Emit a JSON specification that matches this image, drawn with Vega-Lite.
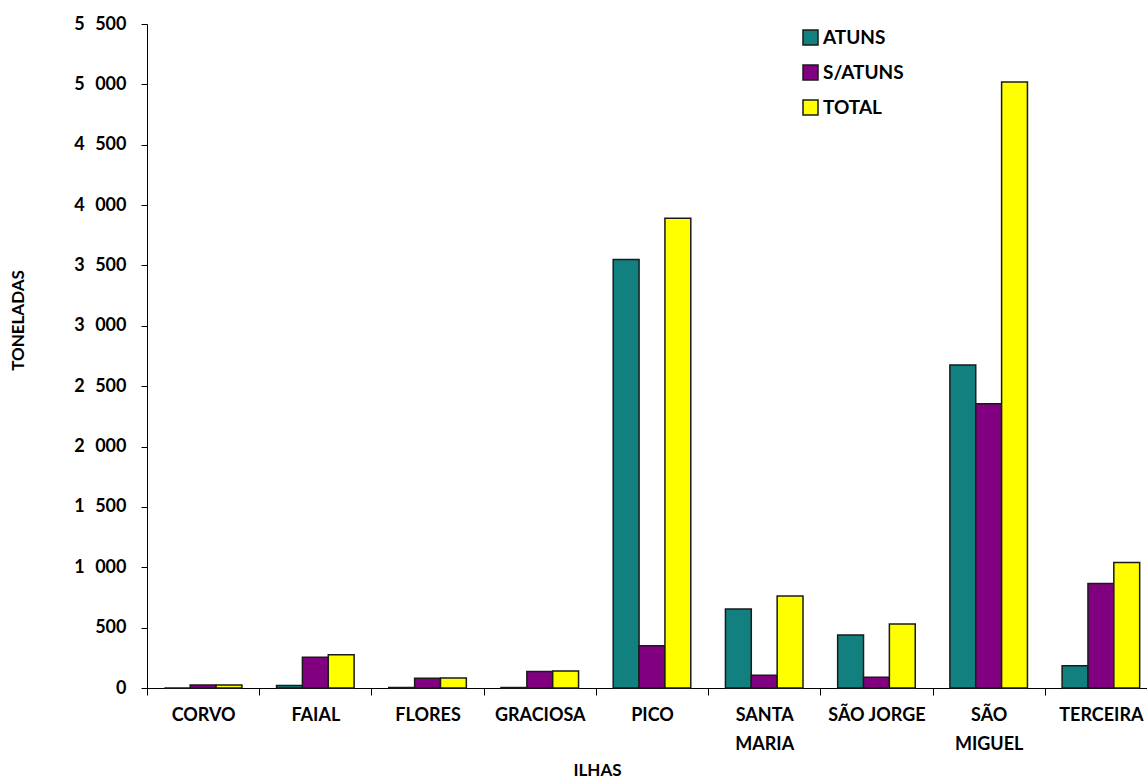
{
  "$schema": "https://vega.github.io/schema/vega-lite/v6.json",
  "autosize": {"type": "none"},
  "width": 1000,
  "height": 664,
  "padding": {"left": 147, "top": 24, "right": 0, "bottom": 90},
  "background": "white",
  "config": {
    "view": {"stroke": null},
    "font": "Lato",
    "axis": {"grid": false, "domainColor": "#000000", "tickColor": "#000000", "labelColor": "#000000", "titleColor": "#000000", "labelFont": "Lato", "titleFont": "Lato", "labelFontWeight": "bold", "titleFontWeight": "bold", "labelFontSize": 18, "titleFontSize": 17, "domainWidth": 1, "tickWidth": 1}
  },
  "data": {
    "values": [
      {"ilha": "CORVO", "tipo": "ATUNS", "valor": 0},
      {"ilha": "CORVO", "tipo": "S/ATUNS", "valor": 25},
      {"ilha": "CORVO", "tipo": "TOTAL", "valor": 25},
      {"ilha": "FAIAL", "tipo": "ATUNS", "valor": 20},
      {"ilha": "FAIAL", "tipo": "S/ATUNS", "valor": 255},
      {"ilha": "FAIAL", "tipo": "TOTAL", "valor": 275},
      {"ilha": "FLORES", "tipo": "ATUNS", "valor": 4},
      {"ilha": "FLORES", "tipo": "S/ATUNS", "valor": 80},
      {"ilha": "FLORES", "tipo": "TOTAL", "valor": 82},
      {"ilha": "GRACIOSA", "tipo": "ATUNS", "valor": 4},
      {"ilha": "GRACIOSA", "tipo": "S/ATUNS", "valor": 137},
      {"ilha": "GRACIOSA", "tipo": "TOTAL", "valor": 140},
      {"ilha": "PICO", "tipo": "ATUNS", "valor": 3550},
      {"ilha": "PICO", "tipo": "S/ATUNS", "valor": 350},
      {"ilha": "PICO", "tipo": "TOTAL", "valor": 3890},
      {"ilha": "SANTA MARIA", "tipo": "ATUNS", "valor": 655},
      {"ilha": "SANTA MARIA", "tipo": "S/ATUNS", "valor": 105},
      {"ilha": "SANTA MARIA", "tipo": "TOTAL", "valor": 762},
      {"ilha": "SÃO JORGE", "tipo": "ATUNS", "valor": 440},
      {"ilha": "SÃO JORGE", "tipo": "S/ATUNS", "valor": 90},
      {"ilha": "SÃO JORGE", "tipo": "TOTAL", "valor": 530},
      {"ilha": "SÃO MIGUEL", "tipo": "ATUNS", "valor": 2675},
      {"ilha": "SÃO MIGUEL", "tipo": "S/ATUNS", "valor": 2355},
      {"ilha": "SÃO MIGUEL", "tipo": "TOTAL", "valor": 5020},
      {"ilha": "TERCEIRA", "tipo": "ATUNS", "valor": 185},
      {"ilha": "TERCEIRA", "tipo": "S/ATUNS", "valor": 865},
      {"ilha": "TERCEIRA", "tipo": "TOTAL", "valor": 1040}
    ]
  },
  "mark": {"type": "bar", "stroke": "#1a1a1a", "strokeWidth": 1.5},
  "encoding": {
    "x": {
      "field": "ilha",
      "type": "nominal",
      "sort": null,
      "scale": {"range": [0, 1010], "paddingInner": 0, "paddingOuter": 0},
      "axis": {
        "title": "ILHAS",
        "labelAngle": 0,
        "tickBand": "extent",
        "tickSize": 7,
        "labelPadding": 11,
        "labelLineHeight": 29,
        "labelExpr": "datum.label == 'SANTA MARIA' ? ['SANTA', 'MARIA'] : datum.label == 'SÃO MIGUEL' ? ['SÃO', 'MIGUEL'] : datum.label",
        "titleX": 450,
        "titleY": 82,
        "titleAnchor": "middle",
        "titleAlign": "center",
        "titleBaseline": "middle"
      }
    },
    "xOffset": {
      "field": "tipo",
      "type": "nominal",
      "sort": ["ATUNS", "S/ATUNS", "TOTAL"],
      "scale": {"paddingInner": 0, "paddingOuter": 0.67}
    },
    "y": {
      "field": "valor",
      "type": "quantitative",
      "scale": {"domain": [0, 5500], "nice": false},
      "axis": {
        "title": "TONELADAS",
        "values": [0, 500, 1000, 1500, 2000, 2500, 3000, 3500, 4000, 4500, 5000, 5500],
        "labelExpr": "replace(format(datum.value, ',.0f'), ',', '\u2007')",
        "tickSize": 6,
        "labelPadding": 15,
        "titleX": -129,
        "titleY": 296,
        "titleAngle": -90,
        "titleAlign": "center",
        "titleBaseline": "middle"
      }
    },
    "color": {
      "field": "tipo",
      "type": "nominal",
      "sort": ["ATUNS", "S/ATUNS", "TOTAL"],
      "scale": {"domain": ["ATUNS", "S/ATUNS", "TOTAL"], "range": ["#138080", "#800080", "#ffff00"]},
      "legend": {
        "title": null,
        "orient": "none",
        "legendX": 654,
        "legendY": 4,
        "symbolType": "square",
        "symbolSize": 225,
        "symbolStrokeColor": "#1a1a1a",
        "symbolStrokeWidth": 1.5,
        "symbolOpacity": 1,
        "labelFont": "Lato",
        "labelFontWeight": "bold",
        "labelFontSize": 19,
        "labelColor": "#000000",
        "labelOffset": 3,
        "rowPadding": 14
      }
    }
  }
}
